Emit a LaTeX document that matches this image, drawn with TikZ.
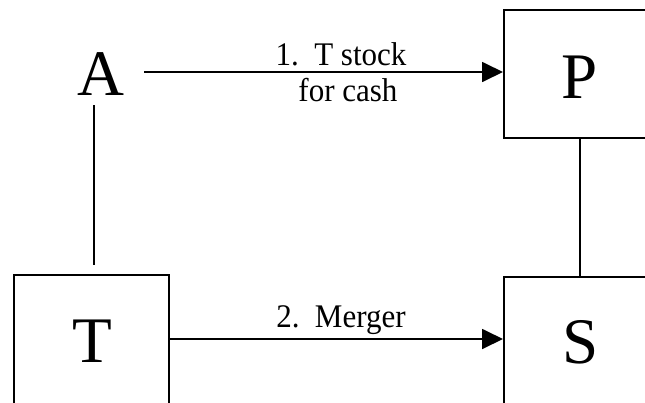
\documentclass[tikz,border=0pt]{standalone}
\usepackage{fontspec}
\setmainfont{Liberation Serif}
\newfontfamily\lblfont[FakeStretch=0.94]{Liberation Serif}
\usetikzlibrary{arrows.meta}
\begin{document}
\begin{tikzpicture}[x=1pt,y=-1pt,
  box/.style={draw,line width=1.8pt,inner sep=0pt,anchor=north west},
  big/.style={font=\fontsize{65}{65}\selectfont,inner sep=0pt,anchor=base},
  lbl/.style={font=\lblfont\fontsize{33}{33}\selectfont,inner sep=0pt,anchor=base},
  conn/.style={line width=1.8pt},
  arr/.style={conn,-{Triangle[length=21pt,width=20pt]}}]
\useasboundingbox (0,0) rectangle (645,402);
\clip (0,0) rectangle (645,402);
% boxes
\node[box,minimum width=160pt,minimum height=128pt] (Pbox) at (503,9) {};
\node[box,minimum width=160pt,minimum height=134pt] (Sbox) at (503,276) {};
\node[box,minimum width=155pt,minimum height=134pt] (Tbox) at (13,274) {};
% letters
\node[big] (A) at (101,95) {A};
\node[big] (P) at (580,98) {P};
\node[big] (T) at (92,362) {T};
\node[big] (S) at (581,363) {S};
% labels
\node[lbl] (l1) at (341,65) {1.\ \ T stock};
\node[lbl] (l2) at (348,101) {for cash};
\node[lbl] (l3) at (341,327) {2.\ \ Merger};
% connectors
\coordinate (a1) at (144,72);
\coordinate (a2) at (94,105);
\coordinate (a3) at (94,265);
\draw[arr] (a1) -- (a1 -| Pbox.west);
\draw[conn] (a2) -- (a3);
\draw[arr] (Tbox.east |- 0,339) -- (Sbox.west |- 0,339);
\draw[conn] (580,0 |- Pbox.south) -- (580,0 |- Sbox.north);
\end{tikzpicture}
\end{document}
